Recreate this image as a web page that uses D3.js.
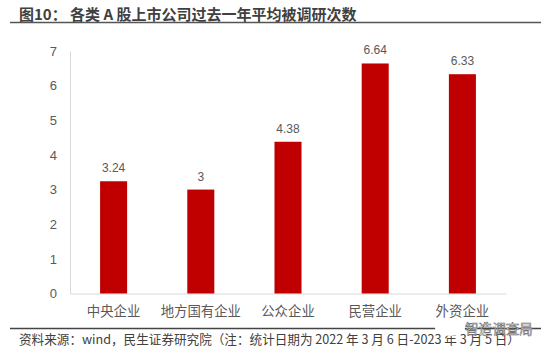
<!DOCTYPE html>
<html>
<head>
<meta charset="utf-8">
<script src="https://cdn.jsdelivr.net/npm/d3@7"></script>
<style>
html, body { margin: 0; padding: 0; background: #fff; }
svg { display: block; }
text { font-family: "Noto Sans CJK SC", "Liberation Sans", sans-serif; }
</style>
</head>
<body>
<div id="chart"></div>
<script>
var categories = ["中央企业", "地方国有企业", "公众企业", "民营企业", "外资企业"];
var values = [3.24, 3, 4.38, 6.64, 6.33];
var yTicks = [0, 1, 2, 3, 4, 5, 6, 7];
var titleText = "图10： 各类 A 股上市公司过去一年平均被调研次数";
var sourceText = "资料来源：wind，民生证券研究院（注：统计日期为 2022 年 3 月 6 日-2023 年 3 月 5 日）";
var watermarkText = "智造调查局";

var width = 550, height = 354;
var margin = { left: 70, right: 44, top: 51, bottom: 60.5 };

var svg = d3.select("#chart").append("svg")
    .attr("width", width)
    .attr("height", height);

var x = d3.scaleBand()
    .domain(categories)
    .range([margin.left, width - margin.right])
    .paddingInner(0.69)
    .paddingOuter(0.345);

var y = d3.scaleLinear()
    .domain([0, 7])
    .range([height - margin.bottom, margin.top]);

// title and rules
svg.append("text")
    .attr("x", 19)
    .attr("y", 20)
    .attr("font-size", 15)
    .attr("font-weight", 700)
    .attr("fill", "#404040")
    .text(titleText);

svg.append("line")
    .attr("x1", 10).attr("x2", 541)
    .attr("y1", 22.5).attr("y2", 22.5)
    .attr("stroke", "#555")
    .attr("stroke-width", 1.5);

svg.append("line")
    .attr("x1", 10).attr("x2", 541)
    .attr("y1", 328.5).attr("y2", 328.5)
    .attr("stroke", "#444")
    .attr("stroke-width", 1.5);

// axes
var yAxis = svg.append("g")
    .attr("transform", "translate(" + margin.left + ",0)")
    .call(d3.axisLeft(y).tickValues(yTicks).tickFormat(d3.format("d")).tickSize(0).tickPadding(13));
yAxis.select(".domain").attr("stroke", "#d9d9d9");
yAxis.selectAll("text")
    .attr("font-size", 13)
    .attr("fill", "#595959")
    .style("font-family", "'Liberation Sans', sans-serif");

var xAxis = svg.append("g")
    .attr("transform", "translate(0," + y(0) + ")")
    .call(d3.axisBottom(x).tickSize(0).tickPadding(13));
xAxis.select(".domain").attr("stroke", "#d9d9d9");
xAxis.selectAll("text")
    .attr("font-size", 13.4)
    .attr("fill", "#595959");

// bars
svg.selectAll("rect.bar")
    .data(values)
    .enter().append("rect")
    .attr("class", "bar")
    .attr("x", function(d, i) { return x(categories[i]); })
    .attr("y", function(d) { return y(d); })
    .attr("width", x.bandwidth())
    .attr("height", function(d) { return y(0) - y(d); })
    .attr("fill", "#c00000");

svg.selectAll("text.value")
    .data(values)
    .enter().append("text")
    .attr("class", "value")
    .attr("x", function(d, i) { return x(categories[i]) + x.bandwidth() / 2; })
    .attr("y", function(d) { return y(d) - 9; })
    .attr("text-anchor", "middle")
    .attr("font-size", 12)
    .attr("fill", "#595959")
    .style("font-family", "'Liberation Sans', sans-serif")
    .text(function(d) { return d; });

// source note
svg.append("text")
    .attr("x", 19)
    .attr("y", 344)
    .attr("font-size", 12.6)
    .attr("fill", "#404040")
    .text(sourceText);

// watermark
svg.append("ellipse")
    .attr("cx", 450).attr("cy", 328)
    .attr("rx", 15).attr("ry", 8)
    .attr("fill", "#fff");

svg.append("text")
    .attr("x", 465)
    .attr("y", 334)
    .attr("font-size", 13.6)
    .attr("fill", "#fff")
    .attr("stroke", "#555")
    .attr("stroke-width", 0.5)
    .text(watermarkText);
</script>
</body>
</html>
